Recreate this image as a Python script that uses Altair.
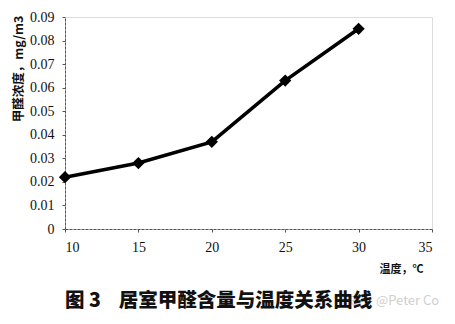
import altair as alt
import pandas as pd

temps = [10, 15, 20, 25, 30]
conc = [0.022, 0.028, 0.037, 0.063, 0.085]
x_ticks = [10, 15, 20, 25, 30, 35]
y_ticks = [0, 0.01, 0.02, 0.03, 0.04, 0.05, 0.06, 0.07, 0.08, 0.09]

df = pd.DataFrame({"t": temps, "c": conc})

W, H = 367, 212

x = alt.X("t:Q", scale=alt.Scale(domain=[10, 35], nice=False, zero=False),
          axis=alt.Axis(values=x_ticks, title="温度，℃", grid=False,
                        domainColor="#555", domainDash=[3, 1], domainWidth=1,
                        tickColor="#555", tickSize=3,
                        labelFont="Liberation Serif", labelFontSize=14, labelColor="#111",
                        labelPadding=8,
                        titleFont="Noto Sans CJK SC", titleFontSize=11, titleFontWeight="bold",
                        titleX=336, titleY=34, titleAlign="center", titleColor="#111"))
y = alt.Y("c:Q", scale=alt.Scale(domain=[0, 0.09], nice=False),
          axis=alt.Axis(values=y_ticks, title="甲醛浓度，mg/m3", grid=False,
                        labelExpr="datum.value == 0 ? '0' : format(datum.value, '.2f')",
                        domainColor="#555", domainDash=[3, 1], domainWidth=1,
                        tickColor="#555", tickSize=3,
                        labelFont="Liberation Sans Narrow", labelFontSize=14, labelColor="#111",
                        labelPadding=8,
                        titleFont="Noto Sans CJK SC", titleFontSize=12.5, titleFontWeight="bold",
                        titleAngle=-90, titleAlign="right", titleBaseline="middle",
                        titleX=-47, titleY=-2, titleColor="#111"))

line = alt.Chart(df).mark_line(color="black", strokeWidth=3.5).encode(x=x, y=y)
pts = alt.Chart(df).mark_point(shape="diamond", filled=True, color="black", size=150, opacity=1).encode(x=x, y=y)

wm = alt.Chart(pd.DataFrame({"s": ["知乎 @Peter Co"]})).mark_text(
    font="Noto Sans CJK SC", fontSize=13, color="#cfcfcf", align="left", baseline="middle"
).encode(text="s:N", x=alt.value(282), y=alt.value(284))

chart = alt.layer(wm, line, pts).properties(
    width=W, height=H,
    title=alt.TitleParams("图 3\u00a0\u00a0\u00a0\u00a0居室甲醛含量与温度关系曲线", orient="bottom", anchor="start",
                          font="Noto Sans CJK SC", fontSize=19.5, fontWeight=900, color="#111",
                          offset=0, dx=53, dy=-16),
    padding={"left": 65, "top": 17, "right": 23, "bottom": 95},
    autosize=alt.AutoSizeParams(type="none"),
).configure_view(stroke=None).configure(background="white")

chart.save("out.html", embed_options={"renderer": "svg", "actions": False})
